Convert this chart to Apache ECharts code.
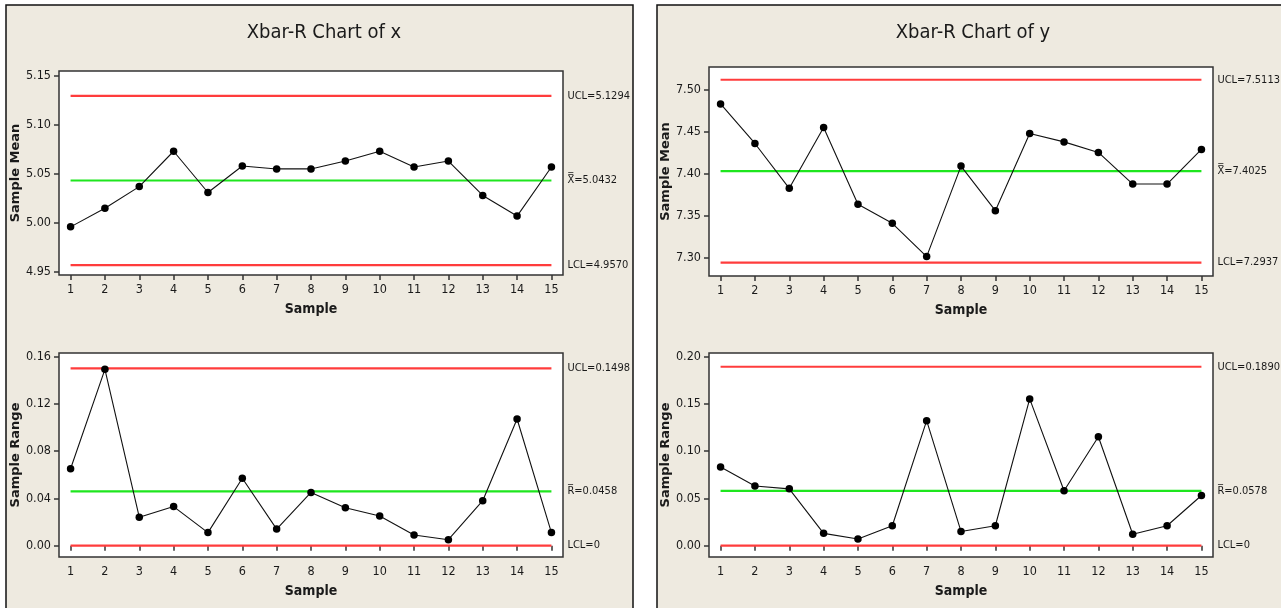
<!DOCTYPE html>
<html><head><meta charset="utf-8">
<script src="https://cdn.jsdelivr.net/npm/echarts@6/dist/echarts.min.js"></script>
<style>html,body{margin:0;padding:0;background:#fff}#c{width:1281px;height:608px}</style>
</head><body><div id="c"></div>
<script>
// ---- data ----
const samples = [1,2,3,4,5,6,7,8,9,10,11,12,13,14,15];
const xMeans  = [4.996,5.015,5.037,5.073,5.031,5.058,5.055,5.055,5.063,5.073,5.057,5.063,5.028,5.007,5.057];
const xRanges = [0.065,0.149,0.024,0.033,0.011,0.057,0.014,0.045,0.032,0.025,0.009,0.005,0.038,0.107,0.011];
const yMeans  = [7.4825,7.4355,7.3821,7.4545,7.3631,7.3405,7.3009,7.4086,7.3555,7.4474,7.4374,7.4248,7.3872,7.3872,7.4284];
const yRanges = [0.083,0.063,0.060,0.013,0.007,0.021,0.132,0.015,0.021,0.155,0.058,0.115,0.012,0.021,0.053];
// control limits [UCL, center, LCL]
const xMeanLimits  = [5.1294, 5.0432, 4.9570];
const xRangeLimits = [0.1498, 0.0458, 0];
const yMeanLimits  = [7.5113, 7.4025, 7.2937];
const yRangeLimits = [0.1890, 0.0578, 0];
const xMeanLabels  = ['UCL=5.1294', 'X\u033F=5.0432', 'LCL=4.9570'];
const xRangeLabels = ['UCL=0.1498', 'R\u0305=0.0458', 'LCL=0'];
const yMeanLabels  = ['UCL=7.5113', 'X\u033F=7.4025', 'LCL=7.2937'];
const yRangeLabels = ['UCL=0.1890', 'R\u0305=0.0578', 'LCL=0'];
const xMeanTicks  = [4.95, 5.00, 5.05, 5.10, 5.15];
const xRangeTicks = [0.00, 0.04, 0.08, 0.12, 0.16];
const yMeanTicks  = [7.30, 7.35, 7.40, 7.45, 7.50];
const yRangeTicks = [0.00, 0.05, 0.10, 0.15, 0.20];
const titles = ['Xbar-R Chart of x', 'Xbar-R Chart of y'];
const xName = 'Sample';
const yNames = ['Sample Mean', 'Sample Range'];

// ---- style ----
const NARROW = "'Liberation Sans Narrow','DejaVu Sans Condensed','Arial Narrow',sans-serif";
const BOLD = "'DejaVu Sans','Verdana',sans-serif";
const INK = '#1a1a1a';
const RED = '#ff3c3c';
const GREEN = '#1ee61e';

const grids = [
  {left: 59, top: 71, width: 504, height: 204},
  {left: 59, top: 353, width: 504, height: 204},
  {left: 709, top: 67, width: 504, height: 209},
  {left: 709, top: 353, width: 504, height: 204}
];
const yRanges4 = [[4.947, 5.1547], [-0.0096, 0.1628], [7.2778, 7.5265], [-0.012, 0.2035]];
const yTicks4 = [xMeanTicks, xRangeTicks, yMeanTicks, yRangeTicks];
const vals4 = [xMeans, xRanges, yMeans, yRanges];
const lims4 = [xMeanLimits, xRangeLimits, yMeanLimits, yRangeLimits];
const labs4 = [xMeanLabels, xRangeLabels, yMeanLabels, yRangeLabels];
const yName4 = [yNames[0], yNames[1], yNames[0], yNames[1]];

const grid = grids.map(g => Object.assign({show: true, backgroundColor: '#fff', borderColor: '#333', borderWidth: 1.5}, g));

const xAxis = grids.map((g, i) => ({
  type: 'value', gridIndex: i, min: 0.663, max: 15.337,
  name: xName, nameLocation: 'middle', nameGap: 27,
  nameTextStyle: {fontFamily: NARROW, fontWeight: 'bold', fontSize: 14, color: INK},
  axisLine: {show: false},
  axisTick: {show: true, inside: false, length: 5, customValues: samples, lineStyle: {color: '#333', width: 1.5}},
  axisLabel: {show: true, customValues: samples, margin: 8, fontFamily: NARROW, fontSize: 12.5, color: INK},
  splitLine: {show: false}
}));

const yAxis = grids.map((g, i) => ({
  type: 'value', gridIndex: i, min: yRanges4[i][0], max: yRanges4[i][1],
  name: yName4[i], nameLocation: 'middle', nameGap: 22, nameRotate: 90,
  nameTextStyle: {fontFamily: BOLD, fontWeight: 'bold', fontSize: 13, color: INK},
  axisLine: {show: false},
  axisTick: {show: true, inside: false, length: 5, customValues: yTicks4[i], lineStyle: {color: '#333', width: 1.5}},
  axisLabel: {show: true, customValues: yTicks4[i], margin: 8, fontFamily: NARROW, fontSize: 12.5, color: INK,
    formatter: v => v.toFixed(2)},
  splitLine: {show: false}
}));

const series = [];
vals4.forEach((vals, i) => {
  lims4[i].forEach((v, k) => {
    series.push({
      type: 'line', xAxisIndex: i, yAxisIndex: i, z: 1,
      data: [[samples[0], v], [samples[samples.length - 1], v]],
      symbol: 'none', silent: true, animation: false,
      lineStyle: {color: k === 1 ? GREEN : RED, width: 2.2},
      endLabel: {show: true, formatter: labs4[i][k], distance: 16, fontFamily: NARROW, fontSize: 11, color: INK}
    });
  });
  series.push({
    type: 'line', xAxisIndex: i, yAxisIndex: i, z: 3,
    data: samples.map((s, j) => [s, vals[j]]),
    symbol: 'circle', symbolSize: 7.5, animation: false,
    itemStyle: {color: '#000'},
    lineStyle: {color: '#111', width: 1.1}
  });
});

const option = {
  backgroundColor: '#fff',
  animation: false,
  title: [
    {text: titles[0], left: 319, top: 18, textAlign: 'center', textStyle: {fontFamily: NARROW, fontWeight: 'normal', fontSize: 20, color: INK}},
    {text: titles[1], left: 968, top: 18, textAlign: 'center', textStyle: {fontFamily: NARROW, fontWeight: 'normal', fontSize: 20, color: INK}}
  ],
  graphic: [
    {type: 'rect', z: -100, silent: true, shape: {x: 6, y: 5, width: 627, height: 620}, style: {fill: '#eeeae0', stroke: '#111', lineWidth: 1.5}},
    {type: 'rect', z: -100, silent: true, shape: {x: 657, y: 5, width: 640, height: 620}, style: {fill: '#eeeae0', stroke: '#111', lineWidth: 1.5}}
  ],
  grid, xAxis, yAxis, series
};
const chart = echarts.init(document.getElementById('c'), null, {renderer: 'canvas'});
chart.setOption(option);
</script></body></html>
